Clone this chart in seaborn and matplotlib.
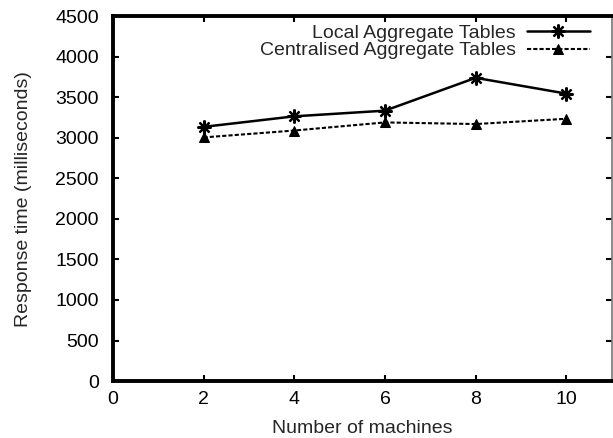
import matplotlib
matplotlib.use('Agg')
import matplotlib.pyplot as plt
import pandas as pd
import seaborn as sns

sns.set_style('ticks')
plt.rcParams['font.family'] = ['Liberation Sans', 'DejaVu Sans']

machines = [2, 4, 6, 8, 10]
local_tables = [3135, 3265, 3335, 3740, 3545]
central_tables = [3005, 3090, 3190, 3170, 3235]

df = pd.DataFrame({
    'machines': machines * 2,
    'time': local_tables + central_tables,
    'series': ['Local Aggregate Tables'] * 5 + ['Centralised Aggregate Tables'] * 5,
})

fig = plt.figure(figsize=(6.13, 4.38), dpi=100)
ax = fig.add_axes([0.184, 0.130, 0.814, 0.833])

local = df[df['series'] == 'Local Aggregate Tables']
central = df[df['series'] == 'Centralised Aggregate Tables']
sns.lineplot(data=local, x='machines', y='time', ax=ax, color='black', lw=1.8,
             marker=(8, 2, 0), markersize=10, mew=1.6, mec='black')
sns.lineplot(data=central, x='machines', y='time', ax=ax, color='black', lw=1.5,
             linestyle=(0, (2, 1)), marker='^', markersize=7, mec='black')

ax.set_xlim(0, 11)
ax.set_ylim(0, 4500)
ax.set_xticks([0, 2, 4, 6, 8, 10])
ax.set_yticks(range(0, 4501, 500))
ax.set_xlabel('Number of machines', fontsize=14, labelpad=9)
ax.set_ylabel('Response time (milliseconds)', fontsize=14, labelpad=17)
ax.tick_params(direction='in', top=True, right=True, length=4, width=1.5,
               labelsize=14, colors='black')
ax.tick_params(axis='x', pad=7)
ax.tick_params(axis='y', pad=10)

for side in ['left', 'bottom', 'top']:
    ax.spines[side].set_linewidth(2.8)
    ax.spines[side].set_color('black')
ax.spines['right'].set_linewidth(1.2)
ax.spines['right'].set_color('#777777')

lines = ax.get_lines()
ax.legend(handles=[lines[0], lines[1]],
          labels=['Local Aggregate Tables', 'Centralised Aggregate Tables'],
          loc='upper right', frameon=False, markerfirst=False, fontsize=14,
          numpoints=1, handlelength=3.2, borderaxespad=0.1, labelspacing=0.0,
          handletextpad=0.6, bbox_to_anchor=(0.975, 1.005))

fig.savefig('out.png', dpi=100)
